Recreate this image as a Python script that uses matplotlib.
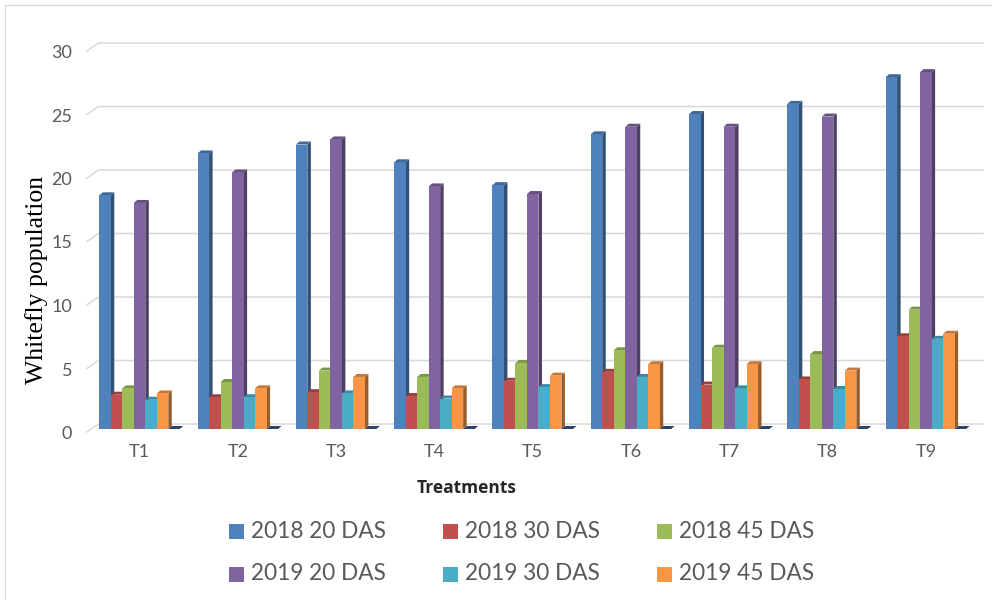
import matplotlib
matplotlib.use("Agg")
import matplotlib.pyplot as plt
import numpy as np
from matplotlib.patches import Polygon, Rectangle
from matplotlib.lines import Line2D
from matplotlib.transforms import ScaledTranslation, blended_transform_factory

categories = ["T1", "T2", "T3", "T4", "T5", "T6", "T7", "T8", "T9"]
series_names = ["2018 20 DAS", "2018 30 DAS", "2018 45 DAS",
                "2019 20 DAS", "2019 30 DAS", "2019 45 DAS"]
s2018_20 = [18.4, 21.7, 22.4, 21.0, 19.2, 23.2, 24.8, 25.6, 27.7]
s2018_30 = [2.7, 2.5, 2.9, 2.6, 3.8, 4.5, 3.5, 3.9, 7.3]
s2018_45 = [3.2, 3.7, 4.6, 4.1, 5.2, 6.2, 6.4, 5.9, 9.4]
s2019_20 = [17.8, 20.2, 22.8, 19.1, 18.5, 23.8, 23.8, 24.6, 28.1]
s2019_30 = [2.3, 2.5, 2.8, 2.4, 3.3, 4.1, 3.2, 3.15, 7.1]
s2019_45 = [2.8, 3.2, 4.1, 3.2, 4.2, 5.1, 5.1, 4.6, 7.5]
series = [s2018_20, s2018_30, s2018_45, s2019_20, s2019_30, s2019_45]
colors = ["#4F81BD", "#C0504D", "#9BBB59", "#8064A2", "#4BACC6", "#F79646"]
yticks = [0, 5, 10, 15, 20, 25, 30]

W, H = 992, 600
fig = plt.figure(figsize=(W / 100, H / 100), dpi=100)
# front plane: x px 90.4..975, y px 429 (0) .. 48 (30)
L, R, B, T = 90.4, 975.0, 429.0, 48.0
ax = fig.add_axes([L / W, (H - B) / H, (R - L) / W, (B - T) / H])
ax.set_xlim(-0.5, len(categories) - 0.5)
ax.set_ylim(0, 30)
ax.axis("off")

pxx = (len(categories)) / (R - L)   # data units per px in x
pxy = 30 / (B - T)                  # data units per px in y


def shade(c, f):
    rgb = np.array(matplotlib.colors.to_rgb(c))
    return tuple(np.clip(rgb * f, 0, 1))


# back-wall gridlines
for v in yticks:
    x0 = -0.5 - 3.5 * pxx
    y0 = v - 3 * pxy
    x1 = -0.5 + 8 * pxx
    y1 = v + 5 * pxy
    x2 = len(categories) - 0.5 + 8 * pxx
    ax.add_line(Line2D([x0, x1, x2], [y0, y1, y1], color="#d9d9d9", lw=1.1,
                       clip_on=False, zorder=0.5))

w = 11.5 * pxx
dxb, dyb = 3.5 * pxx, 3.0 * pxy
x = np.arange(len(categories))
z = 2
for i in range(len(categories)):
    for j, (vals, c) in enumerate(zip(series, colors)):
        xc = x[i] + (j - 3) * w
        v = vals[i]
        xl, xr = xc - w / 2, xc + w / 2
        ax.add_patch(Polygon([(xr, 0), (xr + dxb, dyb), (xr + dxb, v + dyb), (xr, v)],
                             closed=True, fc=shade(c, 0.62), ec="none", zorder=z, clip_on=False))
        ax.add_patch(Polygon([(xl, v), (xr, v), (xr + dxb, v + dyb), (xl + dxb, v + dyb)],
                             closed=True, fc=shade(c, 0.8), ec="none", zorder=z, clip_on=False))
        ax.bar(xc, v, width=w, color=c, edgecolor="none", zorder=z + 0.5, clip_on=False)
        z += 1
    # empty seventh slot: floor edge
    xc = x[i] + 3 * w
    xl, xr = xc - w / 2, xc + w / 2
    ax.add_patch(Polygon([(xl, 0), (xr, 0), (xr + dxb, dyb), (xl + dxb, dyb)],
                         closed=True, fc="#2b4468", ec="none", zorder=z, clip_on=False))
    z += 1

tick_font = "Lato"
# y tick labels
off = ScaledTranslation(0, -5 / 100, fig.dpi_scale_trans)
ytrans = blended_transform_factory(fig.transFigure, ax.transData) + off
for v in yticks:
    ax.text(72 / W, v, str(v), transform=ytrans, ha="right", va="center",
            fontsize=13, color="#595959", family=tick_font, clip_on=False)

# x tick labels
for i, cat in enumerate(categories):
    fig.text((L + (i + 0.5) * (R - L) / len(categories)) / W, 1 - 452 / H, cat,
             ha="center", va="center", fontsize=13, color="#595959", family=tick_font)

fig.text(467 / W, 1 - 488 / H, "Treatments", ha="center", va="center",
         fontsize=12.5, fontweight="bold", color="#262626", family="Open Sans")
fig.text(37 / W, 1 - 280 / H, "Whitefly population", ha="center", va="center",
         rotation=90, fontsize=18.5, color="black", family="Liberation Serif")

# legend
leg_x = [229, 443, 657]
leg_y = [531, 574]
for k, (name, c) in enumerate(zip(series_names, colors)):
    r, col = divmod(k, 3)
    mx, my = leg_x[col], leg_y[r]
    fig.patches.append(Rectangle((mx / W, 1 - (my + 7.5) / H), 15 / W, 15 / H,
                                 transform=fig.transFigure, fc=c, ec="none"))
    fig.text((mx + 22) / W, 1 - my / H, name, ha="left", va="center",
             fontsize=16.3, color="#595959", family=tick_font)

# chart border
fig.add_artist(Line2D([5 / W, 5 / W], [0, 1 - 5 / H], color="#d9d9d9", lw=1.0,
                      transform=fig.transFigure))
fig.add_artist(Line2D([5 / W, 991 / W], [1 - 5 / H, 1 - 5 / H], color="#d9d9d9", lw=1.0,
                      transform=fig.transFigure))

fig.savefig("out.png", dpi=100, facecolor="white")
